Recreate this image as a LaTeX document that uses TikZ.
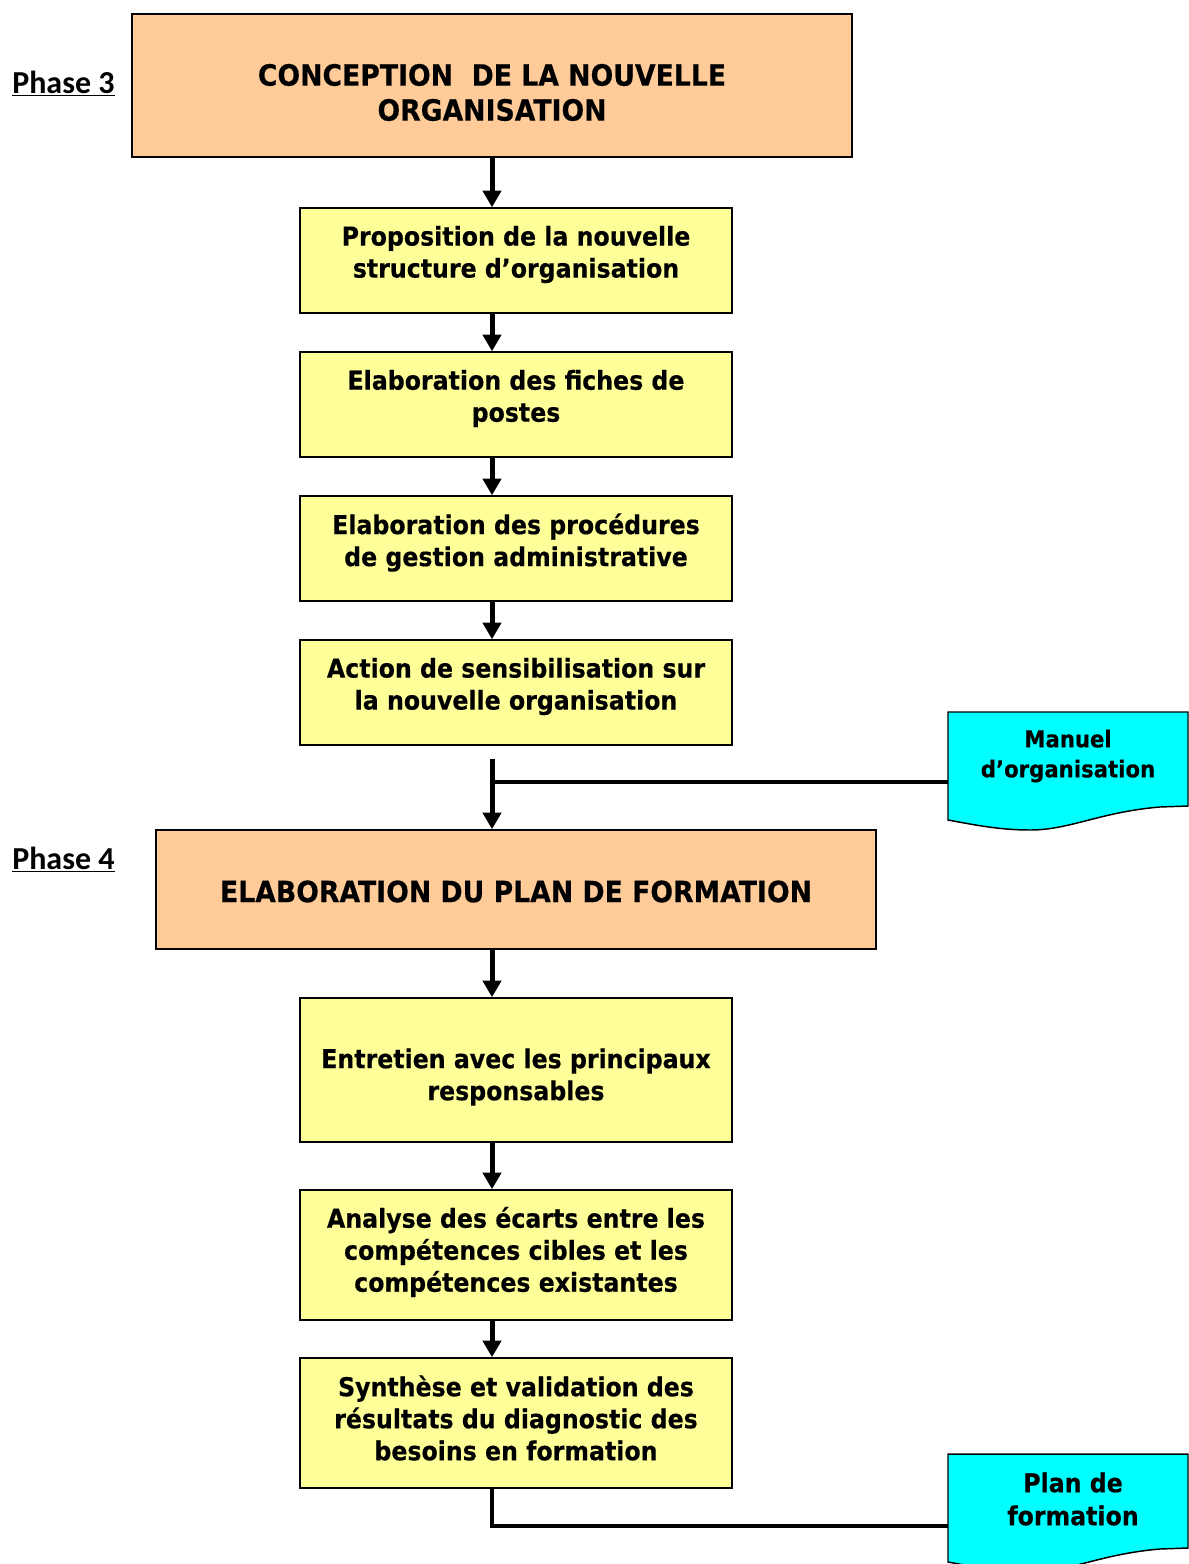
\documentclass[tikz,border=0pt]{standalone}
\usepackage{fontspec}
\setmainfont{DejaVu Sans}[FakeStretch=0.91,BoldFeatures={FakeBold=0.4}]
\newfontfamily\phasefont{Carlito}
\usetikzlibrary{arrows.meta,calc}
\definecolor{phaseorange}{HTML}{FFCC99}
\definecolor{stepyellow}{HTML}{FFFF99}
\definecolor{doccyan}{HTML}{00FFFF}

\begin{document}
\begin{tikzpicture}[x=0.75pt,y=-0.75pt,
  phasebox/.style={draw=black,line width=1.1pt,fill=phaseorange,
    minimum width=540pt,inner sep=0pt},
  phasetext/.style={inner sep=0pt,align=center,
    font=\fontsize{22}{26.25}\selectfont\bfseries},
  stepbox/.style={draw=black,line width=1.1pt,fill=stepyellow,
    minimum width=324pt,inner sep=0pt},
  steptext/.style={inner sep=0pt,align=center,
    font=\fontsize{19.5}{24}\selectfont\bfseries},
  doctext/.style={minimum width=180pt,inner sep=0pt,align=center},
  docshape/.style={draw=black,line width=1.1pt,fill=doccyan},
  phaselabel/.style={anchor=base west,inner sep=0pt,
    font=\phasefont\fontsize{24}{28}\selectfont\bfseries},
  flow/.style={line width=3.75pt,-{Triangle[width=13.5pt,length=12.5pt]}},
  link/.style={line width=3.5pt},
]
\useasboundingbox (0,0) rectangle (1189,1564);

% phase labels
\node[phaselabel] (p3) at (12,93) {\underline{Phase 3}};
\node[phaselabel] (p4) at (12,869) {\underline{Phase 4}};

% phase 3 boxes
\node[phasebox,minimum height=107.25pt] (A) at (492,85.5) {};
\node[stepbox,minimum height=78.75pt] (s1) at (516,260.5) {};
\node[stepbox,minimum height=78.75pt] (s2) at (516,404.5) {};
\node[stepbox,minimum height=78.75pt] (s3) at (516,548.5) {};
\node[stepbox,minimum height=78.75pt] (s4) at (516,692.5) {};

% phase 4 boxes
\node[phasebox,minimum height=89.25pt] (B) at (516,889.5) {};
\node[stepbox,minimum height=108pt] (s5) at (516,1070) {};
\node[stepbox,minimum height=97.5pt] (s6) at (516,1255) {};
\node[stepbox,minimum height=97.5pt] (s7) at (516,1423) {};

% box texts
\node[phasetext] (At) at ($(A)+(0,7)$) {CONCEPTION~ DE LA NOUVELLE\\ORGANISATION};
\node[steptext] (s1t) at ($(s1)+(0,-6)$) {Proposition de la nouvelle\\structure d’organisation};
\node[steptext] (s2t) at ($(s2)+(0,-6)$) {Elaboration des fiches de\\postes};
\node[steptext] (s3t) at ($(s3)+(0,-6)$) {Elaboration des procédures\\de gestion administrative};
\node[steptext] (s4t) at ($(s4)+(0,-6)$) {Action de sensibilisation sur\\la nouvelle organisation};
\node[phasetext] (Bt) at ($(B)+(0,2)$) {ELABORATION DU PLAN DE FORMATION};
\node[steptext] (s5t) at ($(s5)+(0,7)$) {Entretien avec les principaux\\responsables};
\node[steptext] (s6t) at ($(s6)+(0,-3)$) {Analyse des écarts entre les\\compétences cibles et les\\compétences existantes};
\node[steptext] (s7t) at ($(s7)+(0,-5)$) {Synthèse et validation des\\résultats du diagnostic des\\besoins en formation};

% output documents
\draw[docshape] (948,712) -- (1188,712) -- (1188,806) -- (1160,807)
  .. controls (1100,812) and (1070,830) .. (1030,830)
  .. controls (1000,830) and (975,825) .. (948,820) -- cycle;
\node[doctext,font=\fontsize{17.5}{22.5}\selectfont\bfseries] (M) at (1068,756)
  {Manuel\\d’organisation};
\draw[docshape] (948,1454) -- (1188,1454) -- (1188,1548) -- (1160,1549)
  .. controls (1100,1554) and (1070,1572) .. (1030,1572)
  .. controls (1000,1572) and (975,1567) .. (948,1562) -- cycle;
\node[doctext,font=\fontsize{19.5}{24.75}\selectfont\bfseries] (P) at (1073,1499)
  {Plan de\\formation};
\coordinate (mIn) at (948,782);
\coordinate (pIn) at (948,1526);

% connectors
\draw[flow] (A.south) -- (A.south |- s1.north);
\draw[flow] (s1.south -| A.south) -- (s2.north -| A.south);
\draw[flow] (s2.south -| A.south) -- (s3.north -| A.south);
\draw[flow] (s3.south -| A.south) -- (s4.north -| A.south);
\coordinate (j1) at ($(s4.south -| A.south)+(0,13)$);
\draw[flow] (j1) -- (B.north -| A.south);
\draw[link] (mIn -| A.south) -- (mIn);
\draw[flow] (B.south -| A.south) -- (s5.north -| A.south);
\draw[flow] (s5.south -| A.south) -- (s6.north -| A.south);
\draw[flow] (s6.south -| A.south) -- (s7.north -| A.south);
\draw[link] (s7.south -| A.south) -- (pIn -| A.south) -- (pIn);
\end{tikzpicture}
\end{document}
